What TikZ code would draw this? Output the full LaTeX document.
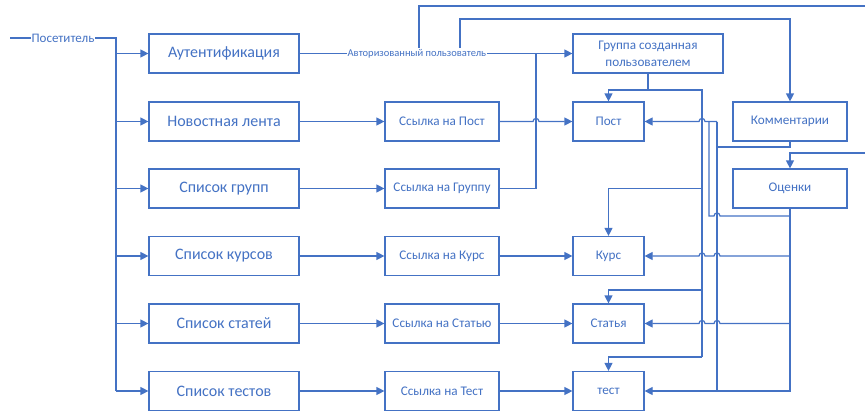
\documentclass[tikz,border=0pt]{standalone}
\usepackage{fontspec}
\setmainfont{Carlito}
\usetikzlibrary{arrows.meta}
\definecolor{ob}{HTML}{4472C4}
\begin{document}
\begin{tikzpicture}[x=1pt,y=-1pt,
  ln/.style={draw=ob, line width=1.2pt},
  arr/.style={ln, -{Triangle[length=8pt,width=8pt]}},
  bx/.style={draw=ob, line width=1.2pt, fill=white, text=ob, minimum height=39pt, inner sep=0pt, align=center},
  bigbox/.style={bx, minimum width=150pt, font=\fontsize{16}{19}\selectfont},
  midbox/.style={bx, minimum width=114pt, font=\fontsize{13.2}{16}\selectfont},
  smallbox/.style={bx, minimum width=71pt, font=\fontsize{13.2}{16}\selectfont},
  lab/.style={fill=white, text=ob, inner sep=1pt, font=\fontsize{10.5}{12}\selectfont}]
\useasboundingbox (0,0) rectangle (865,412);
% left column
\node[bigbox] (L1) at (224,53.5) {Аутентификация};
\node[bigbox] (L2) at (224,121.5) {Новостная лента};
\node[bigbox] (L3) at (224,188.5) {Список групп};
\node[bigbox] (L4) at (224,256) {Список курсов};
\node[bigbox] (L5) at (224,323.5) {Список статей};
\node[bigbox] (L6) at (224,391) {Список тестов};
% middle column
\node[midbox] (M2) at (442,121.5) {Ссылка на Пост};
\node[midbox] (M3) at (442,188.5) {Ссылка на Группу};
\node[midbox] (M4) at (442,256) {Ссылка на Курс};
\node[midbox] (M5) at (442,323.5) {Ссылка на Статью};
\node[midbox] (M6) at (442,391) {Ссылка на Тест};
% right column
\node[bx, minimum width=150pt, font=\fontsize{13.2}{17}\selectfont] (G) at (648,53.5) {Группа созданная\\пользователем};
\node[smallbox] (P) at (608.5,121.5) {Пост};
\node[smallbox] (C) at (608.5,256) {Курс};
\node[smallbox] (S) at (608.5,323.5) {Статья};
\node[smallbox] (T) at (608.5,391) {тест};
\node[midbox] (K) at (790,121.5) {Комментарии};
\node[midbox] (O) at (790,188.5) {Оценки};
% helper coordinates
\coordinate (vis) at (10,38);
\coordinate (bus) at (116,38);
\coordinate (c419) at (419,0);
\coordinate (c460) at (460,0);
% visitor bus
\draw[ln] (vis) -- node[lab,pos=0.5,font=\fontsize{13}{15}\selectfont]{Посетитель} (bus) -- (bus |- L6.west);
\foreach \i in {1,...,6} \draw[arr] (bus |- L\i.west) -- (L\i.west);
% left -> middle
\foreach \i in {2,...,6} \draw[arr] (L\i.east) -- (M\i.west);
% authorised user
\draw[arr] (L1.east) -- node[lab,pos=0.43] (auth) {Авторизованный пользователь} (G.west);
\draw[arr] (c419 |- auth.north) -- (419,6) -- (880,6) -- (880,153) -| (O.north);
\draw[arr] (c460 |- auth.north) -- (460,19) -| (K.north);
% group link
\draw[ln] (M3.east) -| (536,53.5);
\draw[arr] (M2.east) -- (533,121.5) .. controls (533,117.5) and (539,117.5) .. (539,121.5) -- (P.west);
\draw[arr] (M4.east) -- (C.west);
\draw[arr] (M5.east) -- (S.west);
\draw[arr] (M6.east) -- (T.west);
% group -> items
\draw[arr] (G.south) -- (648,90) -| (P.north);
\draw[ln] (648,90) -- (702,90) -- (702,357);
\draw[arr] (702,188.5) -| (C.north);
\draw[arr] (702,290) -| (S.north);
\draw[arr] (702,357) -| (T.north);
% comments
\draw[ln] (K.south) -- (790,147) -- (717,147);
\draw[ln] (717,121.5) -- (717,391);
\draw[arr] (717,121.5) -- (705,121.5) .. controls (705,117.5) and (699,117.5) .. (699,121.5) -- (P.east);
% ratings
\draw[arr] (O.south) -- (790,391) -- (T.east);
\draw[ln] (790,216) -- (720,216) .. controls (720,212) and (714,212) .. (714,216) -- (709,216) -- (709,121.5);
\draw[arr] (790,256) -- (720,256) .. controls (720,252) and (714,252) .. (714,256) -- (705,256) .. controls (705,252) and (699,252) .. (699,256) -- (C.east);
\draw[arr] (790,323.5) -- (720,323.5) .. controls (720,319.5) and (714,319.5) .. (714,323.5) -- (705,323.5) .. controls (705,319.5) and (699,319.5) .. (699,323.5) -- (S.east);
\end{tikzpicture}
\end{document}
